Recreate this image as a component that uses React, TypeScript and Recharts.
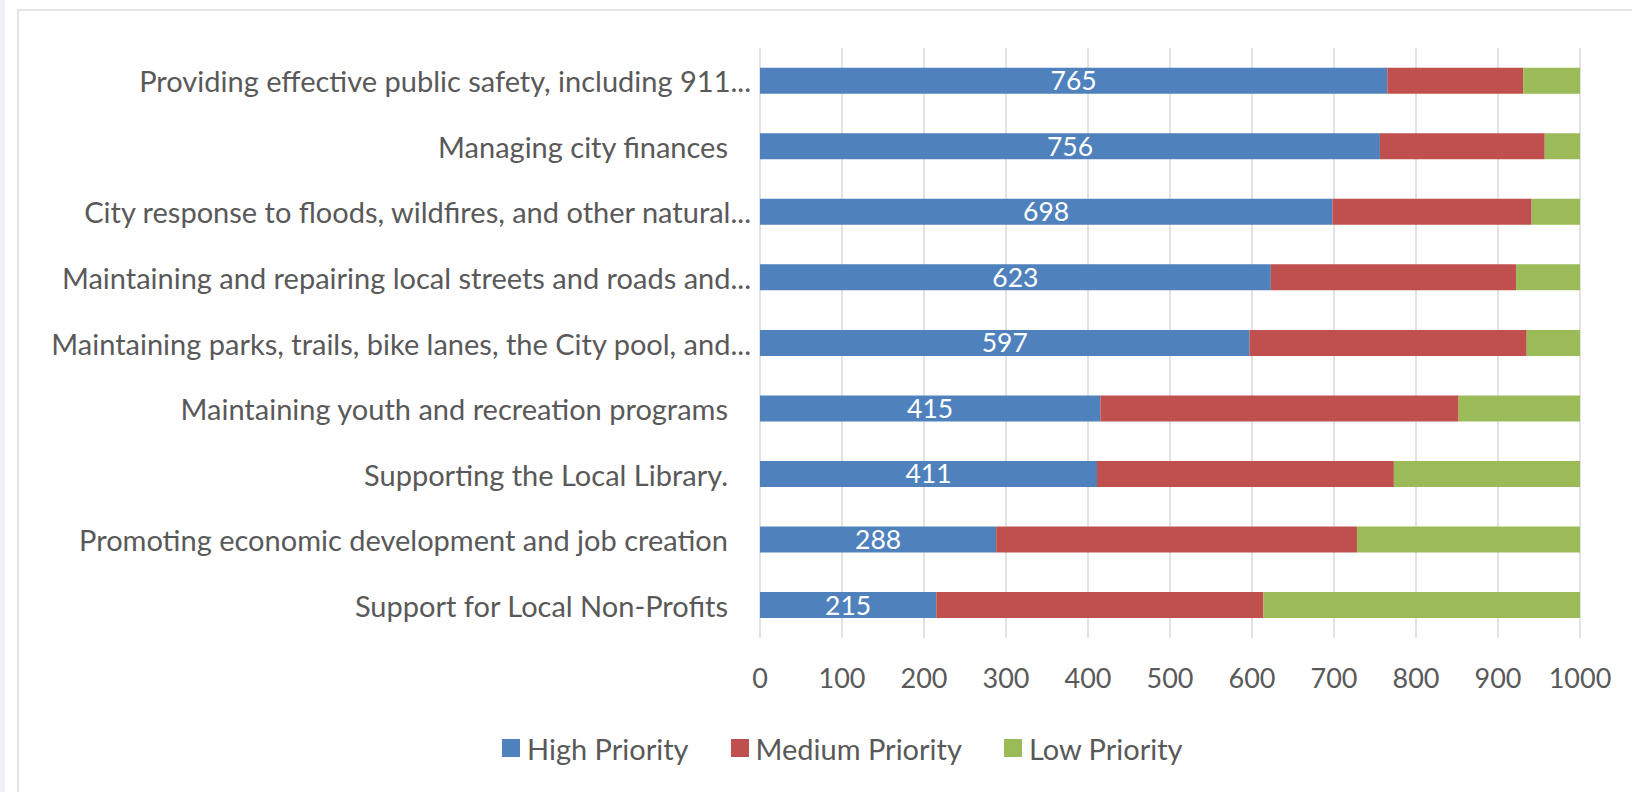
import React from 'react';
import { BarChart, Bar, XAxis, YAxis, CartesianGrid, Legend, LabelList } from 'recharts';

const categories = [
  'Providing effective public safety, including 911...',
  'Managing city finances',
  'City response to floods, wildfires, and other natural...',
  'Maintaining and repairing local streets and roads and...',
  'Maintaining parks, trails, bike lanes, the City pool, and...',
  'Maintaining youth and recreation programs',
  'Supporting the Local Library.',
  'Promoting economic development and job creation',
  'Support for Local Non-Profits',
];
const highPriority = [765, 756, 698, 623, 597, 415, 411, 288, 215];
const mediumPriority = [166, 201, 243, 299, 338, 437, 362, 440, 399];
const lowPriority = [69, 43, 59, 78, 65, 148, 227, 272, 386];
const xTicks = [0, 100, 200, 300, 400, 500, 600, 700, 800, 900, 1000];
const seriesNames = ['High Priority', 'Medium Priority', 'Low Priority'];
const seriesColors = ['#4F81BD', '#C0504D', '#9BBB59'];

const data = categories.map((name, i) => ({
  name,
  high: highPriority[i],
  medium: mediumPriority[i],
  low: lowPriority[i],
}));

const FONT = 'Lato, "Open Sans", sans-serif';
const TEXT = '#595959';

const CategoryTick = (props: any) => {
  const { x, y, payload } = props;
  const v: string = payload.value;
  const truncated = v.endsWith('...');
  return (
    <text
      x={x}
      y={y}
      dx={truncated ? 0 : -23}
      textAnchor="end"
      dominantBaseline="central"
      fill={TEXT}
      fontSize={29}
      fontFamily={FONT}
    >
      {v}
    </text>
  );
};

const renderLegend = () => (
  <div
    style={{
      display: 'flex',
      alignItems: 'center',
      height: 40,
      paddingLeft: 502,
      fontFamily: FONT,
      fontSize: 29,
      color: TEXT,
    }}
  >
    {seriesNames.map((n, i) => (
      <div key={n} style={{ display: 'flex', alignItems: 'center', marginRight: 42 }}>
        <span
          style={{
            display: 'inline-block',
            width: 18,
            height: 18,
            background: seriesColors[i],
            marginRight: 7,
          }}
        />
        <span>{n}</span>
      </div>
    ))}
  </div>
);

export default function App() {
  return (
    <div
      style={{
        position: 'absolute',
        left: 0,
        top: 0,
        width: 1632,
        height: 792,
        overflow: 'hidden',
        background: '#ffffff',
      }}
    >
      <div style={{ position: 'absolute', left: 0, top: 0, width: 5, height: 792, background: '#edf0f5' }} />
      <div
        style={{
          position: 'absolute',
          left: 17,
          top: 9,
          width: 1700,
          height: 900,
          border: '2px solid #e4e4e4',
          boxSizing: 'border-box',
        }}
      />
      <div style={{ position: 'absolute', left: 0, top: 0 }}>
        <BarChart
          width={1632}
          height={792}
          layout="vertical"
          data={data}
          margin={{ top: 48, right: 52, bottom: 0, left: 0 }}
          barCategoryGap="30%"
        >
          <CartesianGrid horizontal={false} vertical={true} stroke="#d9d9d9" strokeWidth={1.5} />
          <XAxis
            type="number"
            domain={[0, 1000]}
            ticks={xTicks}
            axisLine={false}
            tickLine={false}
            tickSize={0}
            tickMargin={31}
            height={114}
            tick={{ fill: TEXT, fontSize: 27, fontFamily: FONT }}
            interval={0}
          />
          <YAxis
            type="category"
            dataKey="name"
            width={760}
            axisLine={false}
            tickLine={false}
            tickSize={0}
            tickMargin={9}
            tick={<CategoryTick />}
            interval={0}
          />
          <Legend
            verticalAlign="bottom"
            content={renderLegend}
            wrapperStyle={{ left: 0, width: 1632, bottom: 24 }}
          />
          <Bar dataKey="high" name={seriesNames[0]} stackId="a" fill={seriesColors[0]} isAnimationActive={false}>
            <LabelList
              dataKey="high"
              position="center"
              fill="#ffffff"
              fontSize={26.5}
              fontFamily={FONT}
            />
          </Bar>
          <Bar dataKey="medium" name={seriesNames[1]} stackId="a" fill={seriesColors[1]} isAnimationActive={false} />
          <Bar dataKey="low" name={seriesNames[2]} stackId="a" fill={seriesColors[2]} isAnimationActive={false} />
        </BarChart>
      </div>
    </div>
  );
}
